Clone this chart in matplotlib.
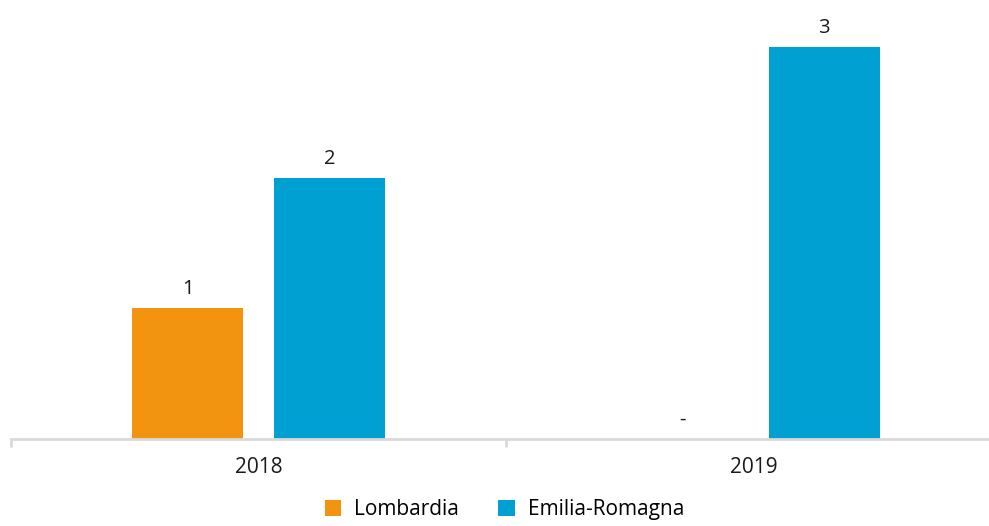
import matplotlib.pyplot as plt
import numpy as np

plt.rcParams['font.family'] = ['Open Sans', 'DejaVu Sans']

years = ['2018', '2019']
lombardia = [1, 0]
emilia = [2, 3]
series = ['Lombardia', 'Emilia-Romagna']
colors = ['#F39410', '#00A0D3']

fig = plt.figure(figsize=(9.89, 5.26), dpi=100)
ax = fig.add_axes([11 / 989, 87 / 526, 990 / 989, 429 / 526])

x = np.arange(len(years))
w = 0.224
off = 0.143
for vals, dx, c, name in [(lombardia, -off, colors[0], series[0]), (emilia, off, colors[1], series[1])]:
    bars = ax.bar(x + dx, vals, w, color=c, label=name)
    for b, v in zip(bars, vals):
        txt = str(v) if v else '-'
        ax.text(b.get_x() + b.get_width() / 2, v + 0.07, txt, ha='center', va='bottom',
                fontsize=14.5, color='#1a1a1a')

ax.set_xlim(-0.5, 1.5)
ax.set_ylim(0, 3.285)
for s in ['top', 'right', 'left']:
    ax.spines[s].set_visible(False)
ax.spines['bottom'].set_color('#d9d9d9')
ax.spines['bottom'].set_linewidth(2)
ax.set_yticks([])
ax.set_xticks([-0.5, 0.5, 1.5])
ax.set_xticklabels([])
ax.tick_params(axis='x', which='major', length=6, width=2, color='#d9d9d9')
ax.set_xticks(x, minor=True)
ax.set_xticklabels(years, minor=True, fontsize=15, color='#1a1a1a')
ax.tick_params(axis='x', which='minor', length=0, pad=13)

fig.legend(loc='lower center', bbox_to_anchor=(0.51, -0.025), ncol=2, frameon=False,
           fontsize=15, handlelength=0.8, handleheight=0.8, columnspacing=1.9, handletextpad=0.6)

fig.savefig('out.png', dpi=100)
